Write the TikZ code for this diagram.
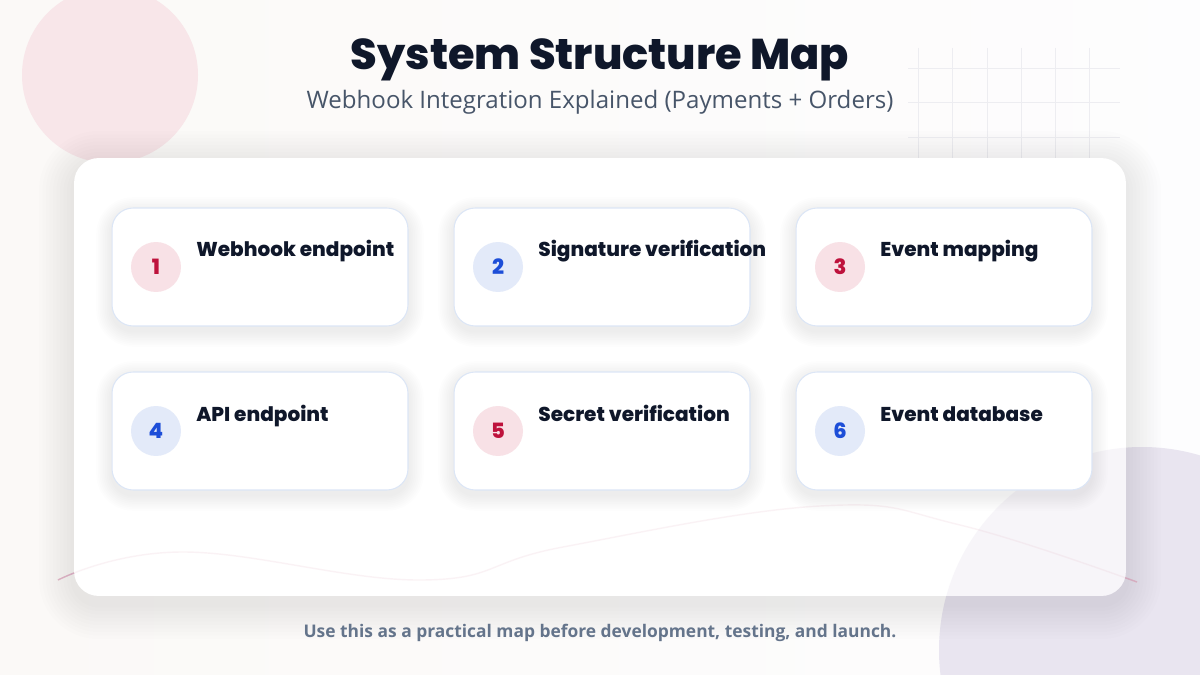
\documentclass[tikz,border=0pt]{standalone}
\usepackage{fontspec}
\setmainfont{Lato}
\newfontfamily\heavyfont{Poppins ExtraBold}
\newfontfamily\plainfont{Open Sans}
\usetikzlibrary{positioning}

\definecolor{inkdark}{HTML}{0F172A}
\definecolor{subgray}{HTML}{475569}
\definecolor{footgray}{HTML}{64748B}
\definecolor{pagebg}{HTML}{FBF9F7}
\definecolor{blobpink}{HTML}{F8E6E9}
\definecolor{blobviolet}{HTML}{E9E5F0}
\definecolor{gridline}{HTML}{EDEDF1}
\definecolor{waveline}{HTML}{E6BCC8}
\definecolor{cardrim}{HTML}{DCE6F6}
\definecolor{badgepink}{HTML}{F8E1E6}
\definecolor{numred}{HTML}{BE123C}
\definecolor{badgeblue}{HTML}{E3EAF9}
\definecolor{numblue}{HTML}{1D4ED8}
\definecolor{shadowtint}{HTML}{1E2A4A}

\tikzset{
  card/.style={draw=cardrim, line width=0.6pt, fill=white, rounded corners=12pt,
    minimum width=5.92cm, minimum height=2.36cm},
  cardshade/.style={fill=shadowtint, fill opacity=0.006, rounded corners=12pt+#1,
    minimum width=5.92cm+2*#1, minimum height=2.36cm+2*#1},
  panelshade/.style={fill=shadowtint, fill opacity=0.008, rounded corners=14pt+#1,
    minimum width=21.04cm+2*#1, minimum height=8.76cm+2*#1},
  badge/.style={circle, minimum size=1cm, inner sep=0pt, font=\heavyfont\fontsize{12}{12}\selectfont},
  redbadge/.style={badge, fill=badgepink, text=numred},
  bluebadge/.style={badge, fill=badgeblue, text=numblue},
  cardtitle/.style={anchor=base west, inner sep=0pt, text=inkdark, font=\heavyfont\fontsize{11.4}{13}\selectfont}
}

\begin{document}
\begin{tikzpicture}[x=0.02cm,y=-0.02cm]
  % page and decoration
  \shade[left color=pagebg, right color=white!60!blobviolet!20] (0,0) rectangle (1200,675);
  \useasboundingbox (0,0) rectangle (1200,675);
  \fill[blobpink] (110,75) circle (88);
  \fill[blobviolet] (1142,650) circle (203);
  \foreach \x in {918,952,987,1021,1055,1089} % grid columns
    \draw[gridline, line width=0.4pt] (\x,48) -- (\x,160);
  \foreach \y in {68,102,137} % grid rows
    \draw[gridline, line width=0.4pt] (908,\y) -- (1120,\y);
  \draw[waveline, line width=0.8pt] plot[smooth, tension=0.7] coordinates
    {(58,580) (183,552) (423,580) (563,547) (820,506) (960,525) (1137,582)};

  % main panel
  \foreach \s in {2,4,...,20}
    \node[panelshade=\s pt] at (600,385) {};
  \node[fill=white, rounded corners=14pt, minimum width=21.04cm, minimum height=8.76cm] (panel) at (600,377) {};
  \begin{scope}
    \clip[rounded corners=14pt] (74,158) rectangle (1126,596);
    \fill[blobviolet, opacity=0.35] (1142,650) circle (203);
    \draw[waveline, opacity=0.18, line width=0.8pt] plot[smooth, tension=0.7] coordinates
      {(58,580) (183,552) (423,580) (563,547) (820,506) (960,525) (1137,582)};
  \end{scope}

  % headings
  \node[anchor=base, text=inkdark, font=\heavyfont\fontsize{24.5}{28}\selectfont] (title) at (600,70) {System Structure Map};
  \node[anchor=base, text=subgray, font=\plainfont\fontsize{13.7}{16}\selectfont] (subtitle) at (600,109)
    {Webhook Integration Explained (Payments + Orders)};

  % cards
  \foreach \n/\x/\y in {1/260/267, 2/602/267, 3/944/267, 4/260/431, 5/602/431, 6/944/431} {
    \foreach \s in {1,2,...,9}
      \node[cardshade=\s pt] at (\x,\y+5) {};
    \node[card] (card\n) at (\x,\y) {};
  }

  \node[redbadge] (badge1) at (156,267) {1};
  \node[bluebadge] (badge2) at (498,267) {2};
  \node[redbadge] (badge3) at (840,267) {3};
  \node[bluebadge] (badge4) at (156,431) {4};
  \node[redbadge] (badge5) at (498,431) {5};
  \node[bluebadge] (badge6) at (840,431) {6};

  \node[cardtitle] (label1) at (196,257) {Webhook endpoint};
  \node[cardtitle] (label2) at (538,257) {Signature verification};
  \node[cardtitle] (label3) at (880,257) {Event mapping};
  \node[cardtitle] (label4) at (196,421) {API endpoint};
  \node[cardtitle] (label5) at (538,421) {Secret verification};
  \node[cardtitle] (label6) at (880,421) {Event database};

  % footer
  \node[anchor=base, text=footgray, font=\plainfont\bfseries\fontsize{9.9}{12}\selectfont] (footer) at (600,637)
    {Use this as a practical map before development, testing, and launch.};
\end{tikzpicture}
\end{document}
